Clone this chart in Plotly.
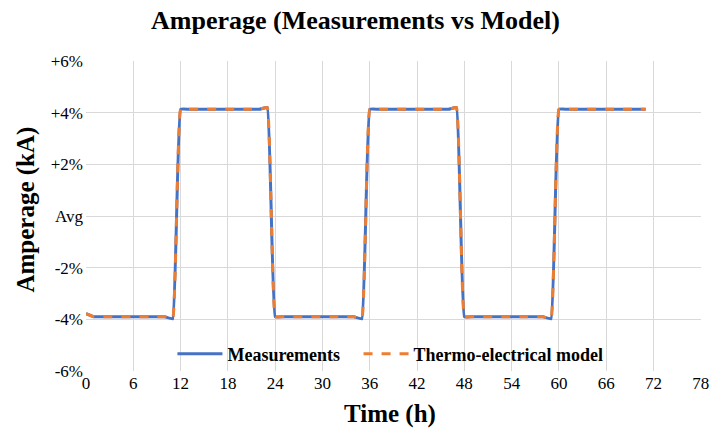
import plotly.graph_objects as go

hours = list(range(0, 72))

measurements = [
    -3.78, -3.90, -3.90, -3.90, -3.90, -3.90, -3.90, -3.90, -3.90, -3.90, -3.90, -3.98,
    4.13, 4.13, 4.13, 4.13, 4.13, 4.13, 4.13, 4.13, 4.13, 4.13, 4.13, 4.20,
    -3.90, -3.90, -3.90, -3.90, -3.90, -3.90, -3.90, -3.90, -3.90, -3.90, -3.90, -3.98,
    4.13, 4.13, 4.13, 4.13, 4.13, 4.13, 4.13, 4.13, 4.13, 4.13, 4.13, 4.20,
    -3.90, -3.90, -3.90, -3.90, -3.90, -3.90, -3.90, -3.90, -3.90, -3.90, -3.90, -3.98,
    4.13, 4.13, 4.13, 4.13, 4.13, 4.13, 4.13, 4.13, 4.13, 4.13, 4.13, 4.13,
]

model = [
    -3.78, -3.90, -3.90, -3.90, -3.90, -3.90, -3.90, -3.90, -3.90, -3.90, -3.90, -3.98,
    4.13, 4.13, 4.13, 4.13, 4.13, 4.13, 4.13, 4.13, 4.13, 4.13, 4.13, 4.20,
    -3.90, -3.90, -3.90, -3.90, -3.90, -3.90, -3.90, -3.90, -3.90, -3.90, -3.90, -3.98,
    4.13, 4.13, 4.13, 4.13, 4.13, 4.13, 4.13, 4.13, 4.13, 4.13, 4.13, 4.20,
    -3.90, -3.90, -3.90, -3.90, -3.90, -3.90, -3.90, -3.90, -3.90, -3.90, -3.90, -3.98,
    4.13, 4.13, 4.13, 4.13, 4.13, 4.13, 4.13, 4.13, 4.13, 4.13, 4.13, 4.13,
]

x_ticks = [0, 6, 12, 18, 24, 30, 36, 42, 48, 54, 60, 66, 72, 78]
y_ticks = [-6, -4, -2, 0, 2, 4, 6]
y_tick_labels = ["-6%", "-4%", "-2%", "Avg", "+2%", "+4%", "+6%"]

FONT = "Liberation Serif, Times New Roman, serif"

fig = go.Figure()
fig.add_trace(go.Scatter(
    x=hours, y=measurements, mode="lines",
    name="<b>Measurements</b>\u00a0\u00a0\u00a0",
    line=dict(color="#4472C4", width=3, shape="spline", smoothing=0.25),
))
fig.add_trace(go.Scatter(
    x=hours, y=model, mode="lines", name="<b>Thermo-electrical model</b>",
    line=dict(color="#ED7D31", width=3, dash="dash", shape="spline", smoothing=0.25),
))

fig.update_layout(
    template="none",
    width=711, height=432,
    margin=dict(l=86, r=10, t=61, b=61, autoexpand=False),
    paper_bgcolor="white", plot_bgcolor="white",
    font=dict(family=FONT, color="black", size=17),
    title=dict(text="<b>Amperage (Measurements vs Model)</b>", x=0.5, xanchor="center",
               y=0.955, yanchor="middle", font=dict(family=FONT, size=26, color="black")),
    showlegend=True,
    legend=dict(orientation="h", x=0.495, xanchor="center", y=0.055, yanchor="middle",
                bgcolor="rgba(0,0,0,0)", font=dict(family=FONT, size=18, color="black"),
                itemwidth=45),
    xaxis=dict(range=[0, 78.02], tickvals=x_ticks, showgrid=True, gridcolor="#d9d9d9",
               gridwidth=1, zeroline=False, showline=False, ticks="", automargin=False,
               ticklabeloverflow="allow",
               tickfont=dict(family=FONT, size=17, color="black")),
    yaxis=dict(range=[-6, 6], tickvals=y_ticks, ticktext=y_tick_labels, showgrid=True,
               gridcolor="#d9d9d9", gridwidth=1, zeroline=False, showline=False, ticks="",
               automargin=False, ticklabelstandoff=2,
               tickfont=dict(family=FONT, size=17, color="black")),
    annotations=[
        dict(text="<b>Time (h)</b>", xref="paper", yref="paper", x=0.495, y=-0.139,
             xanchor="center", yanchor="middle", showarrow=False,
             font=dict(family=FONT, size=25, color="black")),
        dict(text="<b>Amperage (kA)</b>", xref="paper", yref="paper", x=-0.098, y=0.52,
             xanchor="center", yanchor="middle", showarrow=False, textangle=-90,
             font=dict(family=FONT, size=25, color="black")),
    ],
)

fig.write_html("out.html", config={"displayModeBar": False},
               post_script="document.body.style.margin='0';document.body.style.overflow='hidden';")
